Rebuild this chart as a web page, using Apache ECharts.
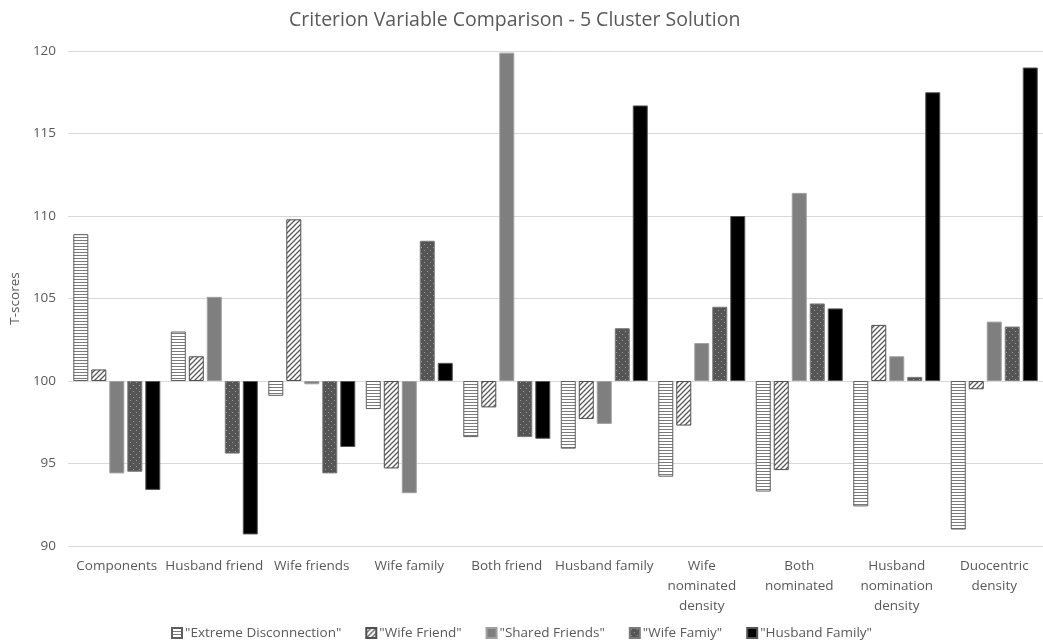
<!DOCTYPE html>
<html>
<head>
<meta charset="utf-8">
<script src="https://cdn.jsdelivr.net/npm/echarts@6/dist/echarts.min.js"></script>
<style>
html,body{margin:0;padding:0;background:#fff;}
#chart{width:1043px;height:642px;}
</style>
</head>
<body>
<div id="chart"></div>
<script>
const categories = ['Components','Husband friend','Wife friends','Wife family','Both friend','Husband family','Wife\nnominated\ndensity','Both\nnominated','Husband\nnomination\ndensity','Duocentric\ndensity'];
const seriesNames = ['"Extreme Disconnection"','"Wife Friend"','"Shared Friends"','"Wife Famiy"','"Husband Family"'];
const extremeDisconnection = [108.9, 103.0, 99.1, 98.3, 96.6, 95.9, 94.2, 93.3, 92.4, 91.0];
const wifeFriend = [100.7, 101.5, 109.8, 94.7, 98.4, 97.7, 97.3, 94.6, 103.4, 99.5];
const sharedFriends = [94.4, 105.1, 99.8, 93.2, 119.9, 97.4, 102.3, 111.4, 101.5, 103.6];
const wifeFamily = [94.5, 95.6, 94.4, 108.5, 96.6, 103.2, 104.5, 104.7, 100.25, 103.3];
const husbandFamily = [93.4, 90.7, 96.0, 101.1, 96.5, 116.7, 110.0, 104.4, 117.5, 119.0];
const baseline = 100;
const yTicks = [90, 95, 100, 105, 110, 115, 120];

function pattern(w, h, draw) {
  const c = document.createElement('canvas');
  c.width = w; c.height = h;
  const ctx = c.getContext('2d');
  draw(ctx, w, h);
  return { image: c, repeat: 'repeat' };
}
const hLines = pattern(4, 3, (ctx, w, h) => {
  ctx.fillStyle = '#ffffff'; ctx.fillRect(0, 0, w, h);
  ctx.fillStyle = '#7a7a7a'; ctx.fillRect(0, 0, w, 1);
});
const diag = pattern(5, 5, (ctx, w, h) => {
  ctx.fillStyle = '#ffffff'; ctx.fillRect(0, 0, w, h);
  ctx.strokeStyle = '#5a5a5a'; ctx.lineWidth = 1.3;
  ctx.beginPath();
  ctx.moveTo(-1, h + 1); ctx.lineTo(w + 1, -1);
  ctx.moveTo(-1 - w, h + 1); ctx.lineTo(1, -1);
  ctx.moveTo(w - 1, h + 1); ctx.lineTo(2 * w + 1, -1);
  ctx.stroke();
});
const dots = pattern(6, 6, (ctx, w, h) => {
  ctx.fillStyle = '#555555'; ctx.fillRect(0, 0, w, h);
  ctx.fillStyle = '#9a9a9a';
  ctx.fillRect(1, 1, 1, 1);
  ctx.fillRect(4, 4, 1, 1);
});

const styles = [
  { color: hLines, borderColor: '#5f5f5f', borderWidth: 1 },
  { color: diag, borderColor: '#4f4f4f', borderWidth: 1 },
  { color: '#7f7f7f', borderColor: '#a0a0a0', borderWidth: 1 },
  { color: dots, borderColor: '#7a7a7a', borderWidth: 1 },
  { color: '#000000', borderColor: '#555555', borderWidth: 1 }
];
const allData = [extremeDisconnection, wifeFriend, sharedFriends, wifeFamily, husbandFamily];

const FONT = 'Open Sans';
const chart = echarts.init(document.getElementById('chart'), null, { renderer: 'canvas' });
chart.setOption({
  animation: false,
  backgroundColor: '#ffffff',
  textStyle: { fontFamily: FONT },
  title: {
    text: 'Criterion Variable Comparison - 5 Cluster Solution',
    left: 284, top: 5,
    textStyle: { fontFamily: FONT, fontSize: 19.5, fontWeight: 'normal', color: '#595959' }
  },
  legend: {
    bottom: 2, left: 'center', padding: 0,
    itemWidth: 10, itemHeight: 10, itemGap: 24,
    icon: 'rect',
    textStyle: { fontFamily: FONT, fontSize: 13.5, color: '#595959', padding: [0, 0, 0, -2] },
    data: seriesNames
  },
  grid: { left: 67, top: 51, width: 980, height: 495, containLabel: false },
  xAxis: {
    type: 'category',
    data: categories,
    position: 'bottom',
    axisLine: { show: false },
    axisTick: { show: false },
    axisLabel: { interval: 0, fontFamily: FONT, fontSize: 13.5, color: '#595959', lineHeight: 20, margin: 10 }
  },
  yAxis: {
    type: 'value',
    min: yTicks[0] - baseline, max: yTicks[yTicks.length - 1] - baseline, interval: 5,
    name: 'T-scores', nameLocation: 'middle', nameGap: 42,
    nameTextStyle: { fontFamily: FONT, fontSize: 13.5, color: '#595959' },
    axisLine: { show: false }, axisTick: { show: false },
    axisLabel: { fontFamily: FONT, fontSize: 13.5, color: '#595959', margin: 12, formatter: v => String(v + baseline) },
    splitLine: { lineStyle: { color: '#d9d9d9', width: 1 } }
  },
  series: seriesNames.map((name, i) => ({
    name: name,
    type: 'bar',
    barWidth: 15,
    barGap: '20%',
    itemStyle: styles[i],
    data: allData[i].map(v => +(v - baseline).toFixed(3))
  }))
});
</script>
</body>
</html>
